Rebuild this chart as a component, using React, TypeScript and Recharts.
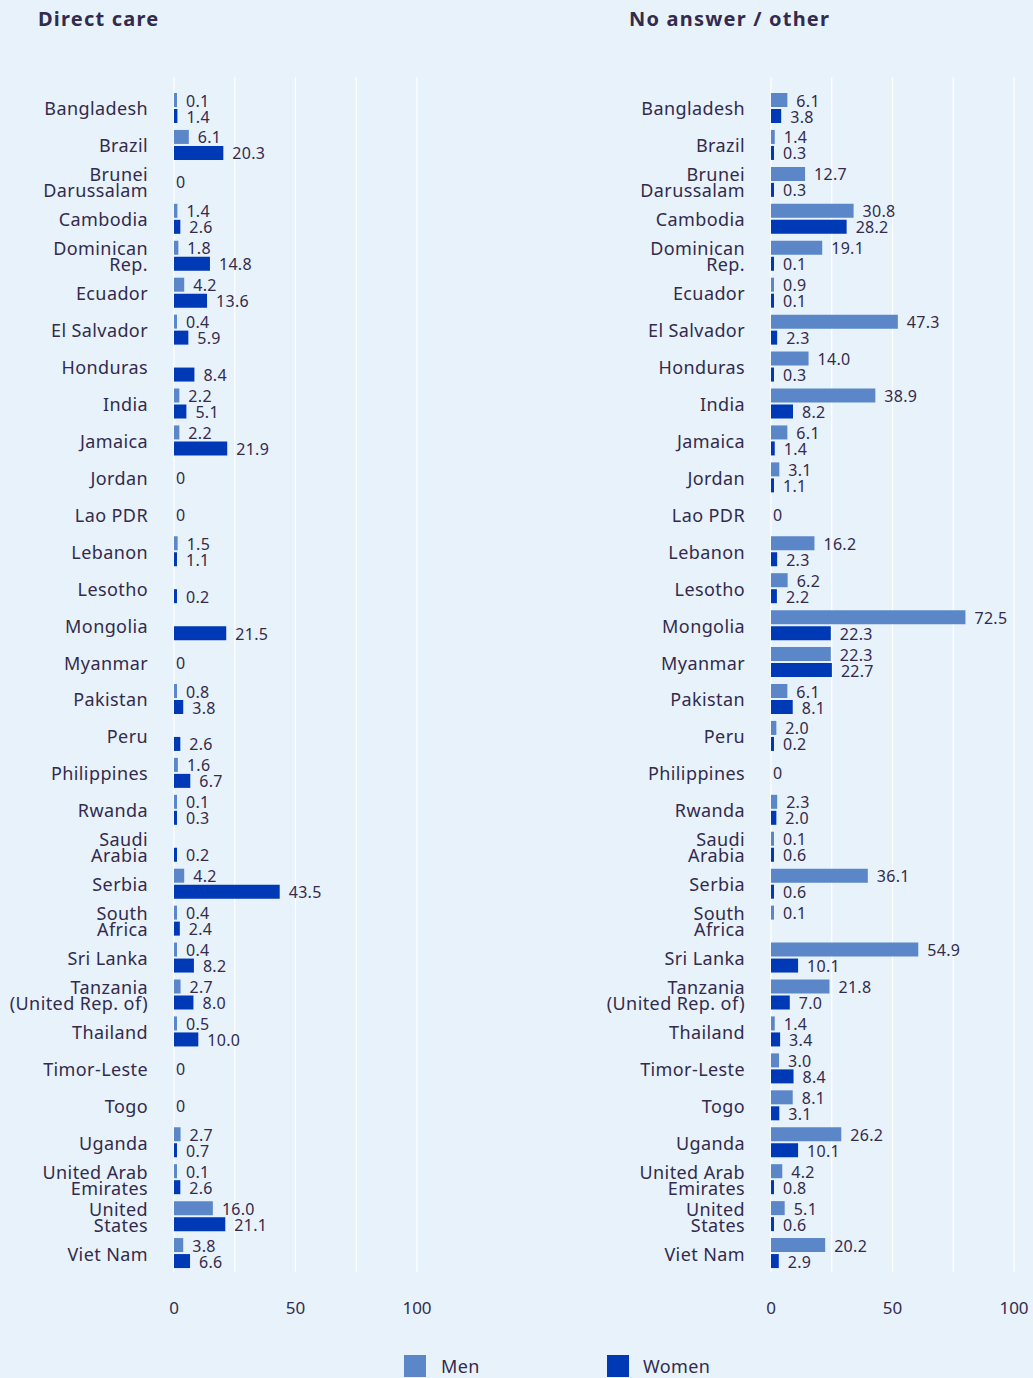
import { Bar, BarChart, CartesianGrid, LabelList, XAxis, YAxis } from 'recharts';

const countries = [
	'Bangladesh',
	'Brazil',
	'Brunei\nDarussalam',
	'Cambodia',
	'Dominican\nRep.',
	'Ecuador',
	'El Salvador',
	'Honduras',
	'India',
	'Jamaica',
	'Jordan',
	'Lao PDR',
	'Lebanon',
	'Lesotho',
	'Mongolia',
	'Myanmar',
	'Pakistan',
	'Peru',
	'Philippines',
	'Rwanda',
	'Saudi\nArabia',
	'Serbia',
	'South\nAfrica',
	'Sri Lanka',
	'Tanzania\n(United Rep. of)',
	'Thailand',
	'Timor-Leste',
	'Togo',
	'Uganda',
	'United Arab\nEmirates',
	'United\nStates',
	'Viet Nam',
];

// null = no value shown; a row where both are null shows a single "0"
const directCareMen = [
	0.1, 6.1, null, 1.4, 1.8, 4.2, 0.4, null, 2.2, 2.2, null, null, 1.5, null, null, null,
	0.8, null, 1.6, 0.1, null, 4.2, 0.4, 0.4, 2.7, 0.5, null, null, 2.7, 0.1, 16.0, 3.8,
];
const directCareWomen = [
	1.4, 20.3, null, 2.6, 14.8, 13.6, 5.9, 8.4, 5.1, 21.9, null, null, 1.1, 0.2, 21.5, null,
	3.8, 2.6, 6.7, 0.3, 0.2, 43.5, 2.4, 8.2, 8.0, 10.0, null, null, 0.7, 2.6, 21.1, 6.6,
];
const otherMen = [
	6.1, 1.4, 12.7, 30.8, 19.1, 0.9, 47.3, 14.0, 38.9, 6.1, 3.1, null, 16.2, 6.2, 72.5, 22.3,
	6.1, 2.0, null, 2.3, 0.1, 36.1, 0.1, 54.9, 21.8, 1.4, 3.0, 8.1, 26.2, 4.2, 5.1, 20.2,
];
const otherWomen = [
	3.8, 0.3, 0.3, 28.2, 0.1, 0.1, 2.3, 0.3, 8.2, 1.4, 1.1, null, 2.3, 2.2, 22.3, 22.7,
	8.1, 0.2, null, 2.0, 0.6, 0.6, null, 10.1, 7.0, 3.4, 8.4, 3.1, 10.1, 0.8, 0.6, 2.9,
];

const xTicks = [0, 50, 100];
const gridValues = [0, 25, 50, 75, 100];

const FONT = '"Noto Sans", sans-serif';
const TEXT = '#332b4d';
const MEN = '#5b87c9';
const WOMEN = '#0039b5';
const BG = '#e8f2fb';

type Row = { country: string; men: number | null; women: number | null };

const toRows = (men: (number | null)[], women: (number | null)[]): Row[] =>
	countries.map((country, i) => ({ country, men: men[i], women: women[i] }));

const directRows = toRows(directCareMen, directCareWomen);
const otherRows = toRows(otherMen, otherWomen);

const CountryTick = ({ x, y, payload, rows }: any) => {
	const lines = String(payload.value).split('\n');
	const row = rows.find((r: Row) => r.country === payload.value);
	const lineHeight = 16;
	const startDy = -((lines.length - 1) * lineHeight) / 2;
	return (
		<g>
			<text
				x={x}
				y={y}
				textAnchor="end"
				dominantBaseline="central"
				fill={TEXT}
				fontSize={18}
				fontFamily={FONT}
				letterSpacing={0.4}
			>
				{lines.map((line, i) => (
					<tspan key={i} x={x} dy={i === 0 ? startDy : lineHeight}>
						{line}
					</tspan>
				))}
			</text>
			{row && row.men == null && row.women == null && (
				<text
					x={x + 28}
					y={y}
					dominantBaseline="central"
					fill={TEXT}
					fontSize={16}
					fontFamily={FONT}
					letterSpacing={0.3}
				>
					0
				</text>
			)}
		</g>
	);
};

const ValueLabel = (props: any) => {
	const { x, y, width, height, value } = props;
	if (value == null) return null;
	return (
		<text
			x={Number(x) + Number(width) + 9}
			y={Number(y) + Number(height) / 2 + 0.5}
			dominantBaseline="central"
			fill={TEXT}
			fontSize={16}
			fontFamily={FONT}
			letterSpacing={0.3}
		>
			{Number(value).toFixed(1)}
		</text>
	);
};

const minSize = (v: number | null | undefined) => (v == null ? 0 : 3);

type PanelProps = {
	rows: Row[];
	left: number;
	width: number;
	yWidth: number;
	right: number;
	barDomain: [number, number];
};

const Panel = ({ rows, left, width, yWidth, right, barDomain }: PanelProps) => (
	<div style={{ position: 'absolute', left, top: 0 }}>
		<BarChart
			width={width}
			height={1340}
			data={rows}
			layout="vertical"
			margin={{ top: 77, right, bottom: 18, left: 0 }}
			barSize={14}
			barGap={2}
		>
			<CartesianGrid
				horizontal={false}
				verticalValues={gridValues}
				stroke="#ffffff"
				strokeWidth={1.2}
			/>
			<XAxis
				type="number"
				domain={[0, 100]}
				allowDataOverflow
				ticks={xTicks}
				axisLine={false}
				tickLine={false}
				tickSize={0}
				tickMargin={30}
				height={50}
				tick={{ fill: TEXT, fontSize: 17, fontFamily: FONT }}
			/>
			<XAxis xAxisId="bars" type="number" domain={barDomain} allowDataOverflow hide />
			<YAxis
				type="category"
				dataKey="country"
				width={yWidth}
				interval={0}
				axisLine={false}
				tickLine={false}
				tickSize={0}
				tickMargin={26}
				padding={{ top: 13, bottom: 0 }}
				tick={(p: any) => <CountryTick {...p} rows={rows} />}
			/>
			<Bar
				dataKey="men"
				xAxisId="bars"
				fill={MEN}
				minPointSize={minSize}
				isAnimationActive={false}
			>
				<LabelList dataKey="men" content={ValueLabel} />
			</Bar>
			<Bar
				dataKey="women"
				xAxisId="bars"
				fill={WOMEN}
				minPointSize={minSize}
				isAnimationActive={false}
			>
				<LabelList dataKey="women" content={ValueLabel} />
			</Bar>
		</BarChart>
	</div>
);

const titleStyle: React.CSSProperties = {
	position: 'absolute',
	top: 7,
	fontSize: 20,
	fontWeight: 700,
	lineHeight: '24px',
	letterSpacing: 1.2,
	color: TEXT,
};

const legendText: React.CSSProperties = {
	position: 'absolute',
	top: 1354,
	fontSize: 18,
	lineHeight: '24px',
	letterSpacing: 0.4,
	color: TEXT,
};

export default function App() {
	return (
		<div
			style={{
				position: 'absolute',
				left: 0,
				top: 0,
				width: 1033,
				height: 1378,
				overflow: 'hidden',
				background: BG,
				fontFamily: FONT,
			}}
		>
			<div style={{ ...titleStyle, left: 38 }}>Direct care</div>
			<div style={{ ...titleStyle, left: 629 }}>No answer / other</div>
			<Panel rows={directRows} left={0} width={440} yWidth={174} right={23} barDomain={[0, 100]} />
			<Panel rows={otherRows} left={560} width={473} yWidth={211} right={19} barDomain={[0, 90.6]} />
			<div style={{ position: 'absolute', left: 404, top: 1355, width: 22, height: 22, background: MEN }} />
			<div style={{ ...legendText, left: 441 }}>Men</div>
			<div style={{ position: 'absolute', left: 607, top: 1355, width: 22, height: 22, background: WOMEN }} />
			<div style={{ ...legendText, left: 643 }}>Women</div>
		</div>
	);
}
